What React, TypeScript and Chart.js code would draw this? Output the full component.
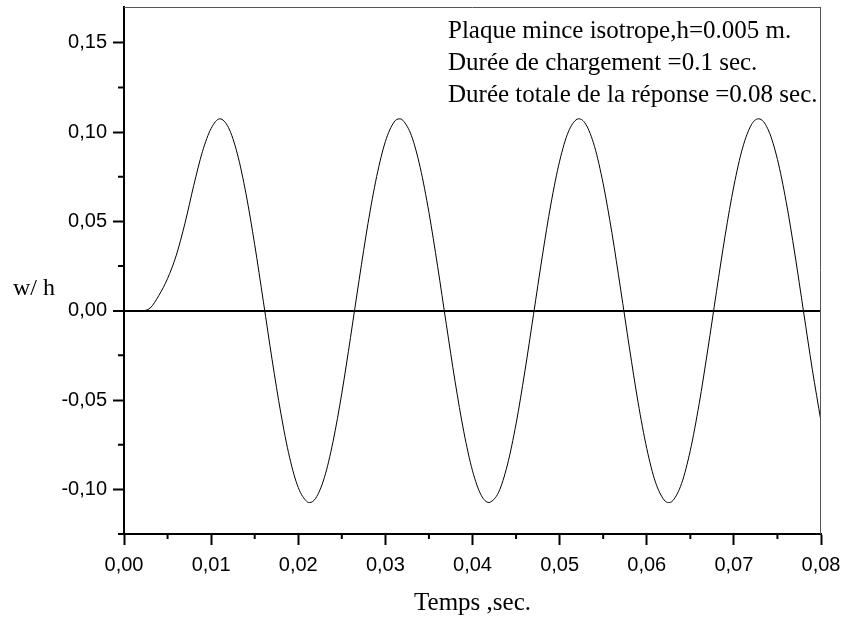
import React, { useEffect, useRef } from "react";
import { Chart, registerables } from "chart.js";

Chart.register(...registerables);

// Time (s)
const times = [
  0, 0.001, 0.002, 0.003, 0.004, 0.005, 0.006, 0.007, 0.008, 0.009,
  0.01, 0.011, 0.012, 0.013, 0.014, 0.015, 0.016, 0.017, 0.018, 0.019,
  0.02, 0.021, 0.0213, 0.022, 0.023, 0.024, 0.025, 0.026, 0.027, 0.028, 0.029,
  0.03, 0.031, 0.0316, 0.032, 0.033, 0.034, 0.035, 0.036, 0.037, 0.038, 0.039,
  0.04, 0.041, 0.0419, 0.042, 0.043, 0.044, 0.045, 0.046, 0.047, 0.048, 0.049,
  0.05, 0.051, 0.052, 0.0522, 0.053, 0.054, 0.055, 0.056, 0.057, 0.058, 0.059,
  0.06, 0.061, 0.062, 0.0625, 0.063, 0.064, 0.065, 0.066, 0.067, 0.068, 0.069,
  0.07, 0.071, 0.072, 0.0728, 0.073, 0.074, 0.075, 0.076, 0.077, 0.078, 0.079,
  0.08,
];

// w/h response
const wOverH = [
  0, 0, 0, 0.0015, 0.0085, 0.018, 0.031, 0.049, 0.07, 0.089,
  0.102, 0.1074, 0.1024, 0.088, 0.0655, 0.037, 0.005, -0.0275, -0.0573, -0.082,
  -0.099, -0.1069, -0.1074, -0.105, -0.0934, -0.0731, -0.0462, -0.0149, 0.0177, 0.0487, 0.0751,
  0.0947, 0.1056, 0.1074, 0.1066, 0.0979, 0.0801, 0.055, 0.0247, -0.0078, -0.0396, -0.0677,
  -0.0896, -0.1033, -0.1074, -0.1073, -0.1016, -0.0864, -0.0633, -0.0343, -0.0022, 0.0301, 0.0597,
  0.0837, 0.1001, 0.1072, 0.1074, 0.1044, 0.092, 0.071, 0.0436, 0.0121, -0.0204, -0.0512,
  -0.0771, -0.096, -0.106, -0.1074, -0.1063, -0.0967, -0.0782, -0.0525, -0.022, 0.0106, 0.0422,
  0.0698, 0.0911, 0.104, 0.1074, 0.1073, 0.1006, 0.0847, 0.061, 0.0317, -0.0006, -0.0328,
  -0.062,
];

const xMajorTicks = [0, 0.01, 0.02, 0.03, 0.04, 0.05, 0.06, 0.07, 0.08];
const xMinorTicks = [0.005, 0.015, 0.025, 0.035, 0.045, 0.055, 0.065, 0.075];
const yMajorTicks = [-0.1, -0.05, 0, 0.05, 0.1, 0.15];
const yMinorTicks = [-0.125, -0.075, -0.025, 0.025, 0.075, 0.125];

const xTitle = "Temps ,sec.";
const yTitle = "w/ h";
const noteLines = [
  "Plaque mince isotrope,h=0.005 m.",
  "Durée de chargement =0.1 sec.",
  "Durée totale de la réponse =0.08 sec.",
];

const fmt = (v: number) => v.toFixed(2).replace(".", ",");
const SANS = '"Liberation Sans", Arial, sans-serif';
const SERIF = '"Liberation Serif", "Times New Roman", serif';

const decor = {
  id: "decor",
  afterDraw(chart: any) {
    const { ctx, chartArea: a, scales } = chart;
    ctx.save();
    // thin top/right frame
    ctx.strokeStyle = "#555";
    ctx.lineWidth = 1;
    ctx.beginPath();
    ctx.moveTo(a.left, a.top + 0.5);
    ctx.lineTo(a.right, a.top + 0.5);
    ctx.moveTo(a.right - 0.5, a.top);
    ctx.lineTo(a.right - 0.5, a.bottom);
    ctx.stroke();
    // minor ticks
    ctx.strokeStyle = "#000";
    ctx.lineWidth = 2;
    ctx.beginPath();
    yMinorTicks.forEach((v) => {
      const y = scales.y.getPixelForValue(v);
      ctx.moveTo(a.left - 6, y);
      ctx.lineTo(a.left, y);
    });
    xMinorTicks.forEach((v) => {
      const x = scales.x.getPixelForValue(v);
      ctx.moveTo(x, a.bottom);
      ctx.lineTo(x, a.bottom + 5);
    });
    ctx.stroke();
    // texts
    ctx.fillStyle = "#000";
    ctx.font = `25px ${SERIF}`;
    ctx.textBaseline = "alphabetic";
    ctx.textAlign = "left";
    noteLines.forEach((s, i) => ctx.fillText(s, 448, 38 + i * 32));
    ctx.font = `24px ${SERIF}`;
    ctx.fillText(yTitle, 13, 295);
    ctx.font = `25px ${SERIF}`;
    ctx.textAlign = "center";
    ctx.fillText(xTitle, (a.left + a.right) / 2, 610);
    ctx.restore();
  },
};

export default function App() {
  const ref = useRef<HTMLCanvasElement | null>(null);

  useEffect(() => {
    if (!ref.current) return;
    const chart = new Chart(ref.current, {
      type: "line",
      data: {
        datasets: [
          {
            data: times.map((t, i) => ({ x: t, y: wOverH[i] })),
            borderColor: "#000",
            borderWidth: 1,
            pointRadius: 0,
            cubicInterpolationMode: "monotone",
            fill: false,
          },
        ],
      },
      options: {
        animation: false,
        responsive: false,
        layout: { padding: { top: 7, right: 24, left: 0, bottom: 0 } },
        plugins: { legend: { display: false }, tooltip: { enabled: false } },
        scales: {
          x: {
            type: "linear",
            min: 0,
            max: 0.08,
            afterBuildTicks: (s: any) => {
              s.ticks = xMajorTicks.map((v) => ({ value: v }));
            },
            afterFit: (s: any) => {
              s.height = 86;
              s.paddingLeft = 0;
              s.paddingRight = 0;
            },
            ticks: {
              autoSkip: false,
              maxRotation: 0,
              padding: 8,
              color: "#000",
              font: { family: SANS, size: 20 },
              callback: (v: any) => fmt(Number(v)),
            },
            grid: {
              drawOnChartArea: false,
              tickLength: 11,
              tickColor: "#000",
              tickWidth: 2,
            },
            border: { display: true, color: "#000", width: 2 },
          },
          y: {
            type: "linear",
            min: -0.125,
            max: 0.17,
            afterBuildTicks: (s: any) => {
              s.ticks = yMajorTicks.map((v) => ({ value: v }));
            },
            afterFit: (s: any) => {
              s.width = 124;
              s.paddingTop = 0;
              s.paddingBottom = 0;
            },
            ticks: {
              autoSkip: false,
              padding: 6,
              color: "#000",
              font: { family: SANS, size: 20 },
              callback: (v: any) => fmt(Number(v)),
            },
            grid: {
              drawOnChartArea: true,
              tickLength: 11,
              tickColor: "#000",
              tickWidth: 2,
              color: (c: any) =>
                c.tick && Math.abs(c.tick.value) < 1e-9 ? "#000" : "rgba(0,0,0,0)",
              lineWidth: (c: any) =>
                c.tick && Math.abs(c.tick.value) < 1e-9 ? 2 : 1,
            },
            border: { display: true, color: "#000", width: 2 },
          },
        },
      },
      plugins: [decor],
    });
    return () => chart.destroy();
  }, []);

  return (
    <div
      style={{
        position: "fixed",
        left: 0,
        top: 0,
        width: 845,
        height: 620,
        background: "#fff",
      }}
    >
      <canvas ref={ref} width={845} height={620} />
    </div>
  );
}
